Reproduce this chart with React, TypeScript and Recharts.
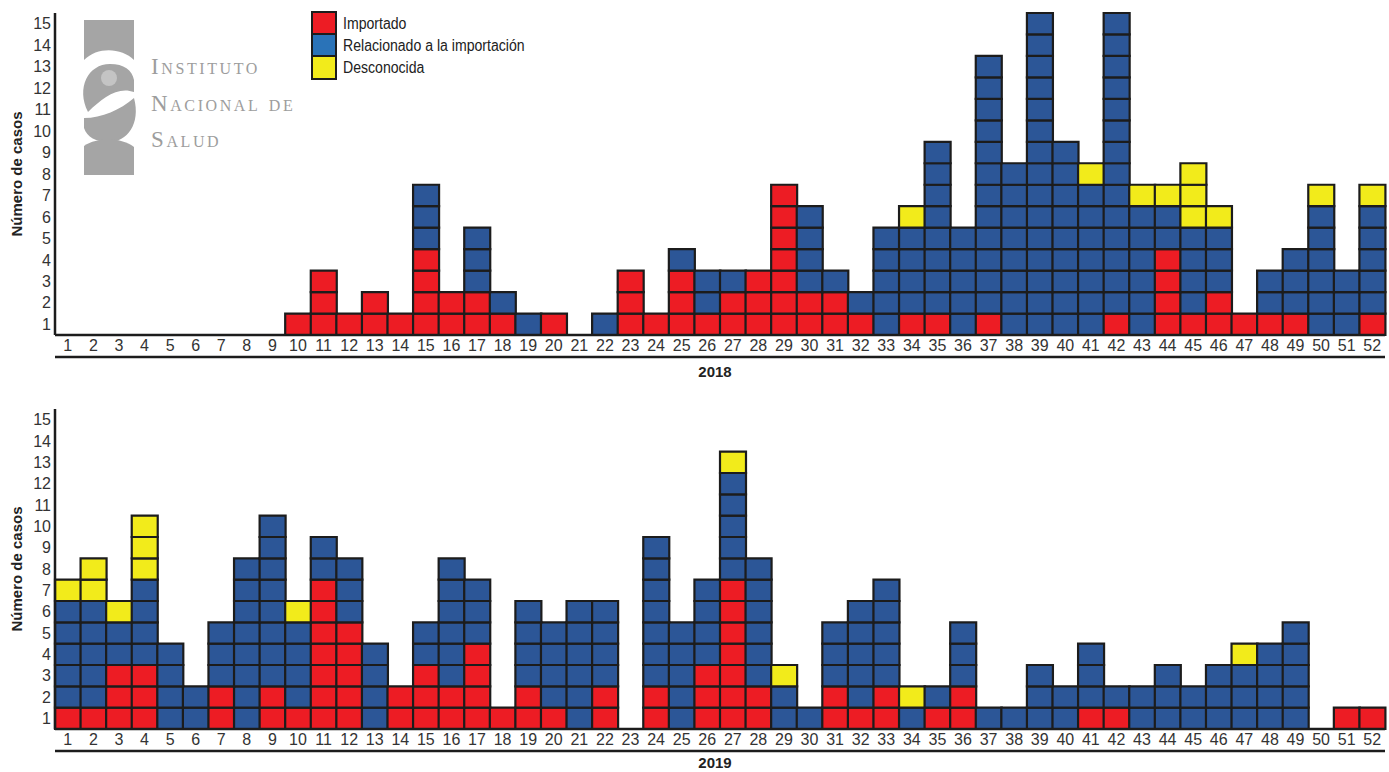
import { BarChart, Bar, XAxis, YAxis, Cell } from "recharts";

// epidemiological weeks
const WEEKS = [
  "1", "2", "3", "4", "5", "6", "7", "8", "9", "10", "11", "12", "13",
  "14", "15", "16", "17", "18", "19", "20", "21", "22", "23", "24", "25", "26",
  "27", "28", "29", "30", "31", "32", "33", "34", "35", "36", "37", "38", "39",
  "40", "41", "42", "43", "44", "45", "46", "47", "48", "49", "50", "51", "52",
];

// one string per week, one letter per case, bottom to top
// R = importado, B = relacionado a la importación, Y = desconocida
const CASES_2018 = [
  "", "", "", "", "", "", "", "", "", "R",
  "RRR", "R", "RR", "R", "RRRRBBB", "RR", "RRBBB", "RB", "B", "R",
  "", "B", "RRR", "R", "RRRB", "RBB", "RRB", "RRR", "RRRRRRR", "RRBBBB",
  "RRB", "RB", "BBBBB", "RBBBBY", "RBBBBBBBB", "BBBBB", "RBBBBBBBBBBBB", "BBBBBBBB",
  "BBBBBBBBBBBBBBB", "BBBBBBBBB", "BBBBBBBY", "RBBBBBBBBBBBBBB", "BBBBBBY",
  "RRRRBBY", "RBBBBYYY", "RRBBBY", "R", "RBB", "RBBB", "BBBBBBY", "BBB", "RBBBBBY",
];

const CASES_2019 = [
  "RBBBBBY", "RBBBBBYY", "RRRBBY", "RRRBBBBYYY", "BBBB", "BB", "RRBBB", "BBBBBBBB",
  "RRBBBBBBBB", "RBBBBY", "RRRRRRRBB", "RRRRRBBB", "BBBB", "RR", "RRRBB", "RRBBBBBB",
  "RRRRBBB", "R", "RRBBBB", "RBBBB", "BBBBBB", "RRBBBB", "", "RRBBBBBBB", "BBBBB",
  "RRRBBBB", "RRRRRRRBBBBBY", "RRBBBBBB", "BBY", "B", "RRBBB", "RBBBBB", "RRBBBBB",
  "BY", "RB", "RRBBB", "B", "B", "BBB", "BB", "RBBB", "RB", "BB", "BBB", "BB", "BBB",
  "BBBY", "BBBB", "BBBBB", "", "R", "R",
];

const Y_TICKS = [0.5, 1.5, 2.5, 3.5, 4.5, 5.5, 6.5, 7.5, 8.5, 9.5, 10.5, 11.5, 12.5, 13.5, 14.5];
const LEVELS = [0, 1, 2, 3, 4, 5, 6, 7, 8, 9, 10, 11, 12, 13, 14];

const LEGEND = [
  { label: "Importado", color: "#ed1c24" },
  { label: "Relacionado a la importación", color: "#2a73b8" },
  { label: "Desconocida", color: "#f2eb1b" },
];

const COLORS: Record<string, string> = { R: "#ed1c24", B: "#2c5697", Y: "#f2eb1b" };
const FONT = "'Liberation Sans Narrow', 'Arial Narrow', 'Liberation Sans', sans-serif";
const INK = "#1c1c1c";

type ChartProps = {
  cases: string[];
  year: string;
  top: number;
  marginTop: number;
  height: number;
  yearDy: number;
};

function WeekChart({ cases, year, top, marginTop, height, yearDy }: ChartProps) {
  const data = WEEKS.map((w, i) => {
    const row: Record<string, string | number> = { week: w };
    LEVELS.forEach((k) => {
      row[`l${k}`] = k < cases[i].length ? 1 : 0;
    });
    return row;
  });

  return (
    <div style={{ position: "absolute", left: 0, top }}>
      <BarChart
        width={1389}
        height={height}
        data={data}
        margin={{ top: marginTop, right: 4, left: 0, bottom: height - 378 }}
        barCategoryGap={0}
        barGap={0}
      >
        <XAxis
          dataKey="week"
          xAxisId="w"
          interval={0}
          height={22}
          tickLine={false}
          tickSize={4}
          tickMargin={1}
          axisLine={{ stroke: INK, strokeWidth: 2.5 }}
          tick={{ fontSize: 16, fill: "#333", fontFamily: FONT }}
        />
        <XAxis
          dataKey="week"
          xAxisId="yr"
          height={21}
          tick={false}
          tickLine={false}
          axisLine={{ stroke: INK, strokeWidth: 2.5 }}
          label={{
            content: (props: any) => {
              const vb = props.viewBox ?? { x: 55, y: 0, width: 1330, height: 21 };
              return (
                <text
                  x={vb.x + vb.width / 2 - 5}
                  y={vb.y + yearDy}
                  textAnchor="middle"
                  fontFamily={FONT}
                  fontWeight="bold"
                  fontSize={15}
                  fill="#222"
                >
                  {year}
                </text>
              );
            },
          }}
        />
        <YAxis
          type="number"
          domain={[0, 15]}
          ticks={Y_TICKS}
          interval={0}
          width={55}
          tickLine={false}
          tickSize={2}
          tickMargin={2}
          axisLine={{ stroke: INK, strokeWidth: 2.5 }}
          tick={{ fontSize: 16, fill: "#333", fontFamily: FONT }}
          tickFormatter={(v: number) => String(v + 0.5)}
          label={{
            content: (props: any) => {
              const vb = props.viewBox ?? { x: 0, y: marginTop, width: 55, height: 320 };
              const cy = vb.y + vb.height / 2;
              return (
                <text
                  x={22}
                  y={cy}
                  transform={`rotate(-90 22 ${cy})`}
                  textAnchor="middle"
                  fontFamily={FONT}
                  fontWeight="bold"
                  fontSize={15}
                  fill="#222"
                >
                  Número de casos
                </text>
              );
            },
          }}
        />
        {LEVELS.map((k) => (
          <Bar
            key={k}
            xAxisId="w"
            dataKey={`l${k}`}
            stackId="s"
            isAnimationActive={false}
            stroke={INK}
            strokeWidth={2.2}
          >
            {cases.map((c, i) => (
              <Cell key={i} fill={COLORS[c[k]] ?? "none"} />
            ))}
          </Bar>
        ))}
      </BarChart>
    </div>
  );
}

function Logo() {
  const gray = "#a5a5a5";
  return (
    <svg width={310} height={180} style={{ position: "absolute", left: 0, top: 0 }}>
      <path d="M84,20 H134 V60 C122,48 98,46 84,60 Z" fill={gray} />
      <path d="M88,112 C76,88 88,64 110,64 C124,64 132,70 134,80 V92 C118,86 102,98 88,112 Z" fill={gray} />
      <circle cx={109} cy={78} r={8} fill="#c4c4c4" />
      <path d="M134,98 C141,124 127,142 109,142 C96,142 87,137 84,128 V118 C102,118 120,110 134,98 Z" fill={gray} />
      <path d="M84,146 C98,137 120,137 134,147 V175 H84 Z" fill={gray} />
      <g fontFamily="'Liberation Serif', 'DejaVu Serif', serif" fill="#9d9d9d" fontSize={23} letterSpacing={2.6} style={{ fontVariant: "small-caps" }}>
        <text x={151} y={74}>Instituto</text>
        <text x={151} y={111}>Nacional de</text>
        <text x={151} y={147}>Salud</text>
      </g>
    </svg>
  );
}

function ChartLegend() {
  return (
    <div style={{ position: "absolute", left: 311, top: 12, fontFamily: FONT, fontSize: 16, color: "#222" }}>
      {LEGEND.map((item, i) => (
        <div key={item.label} style={{ display: "flex", alignItems: "center", height: 23, marginTop: i === 0 ? 0 : -1 }}>
          <div style={{ width: 22, height: 21, background: item.color, border: `2px solid ${INK}` }} />
          <span
            style={{
              marginLeft: 6,
              display: "inline-block",
              whiteSpace: "nowrap",
              transform: "scaleX(0.88)",
              transformOrigin: "left center",
            }}
          >
            {item.label}
          </span>
        </div>
      ))}
    </div>
  );
}

export default function App() {
  return (
    <div style={{ position: "absolute", left: 0, top: 0, width: 1389, height: 772, background: "#fff", overflow: "hidden" }}>
      <WeekChart cases={CASES_2018} year="2018" top={0} marginTop={13} height={386} yearDy={20} />
      <WeekChart cases={CASES_2019} year="2019" top={394} marginTop={15} height={378} yearDy={17} />
      <Logo />
      <ChartLegend />
    </div>
  );
}
